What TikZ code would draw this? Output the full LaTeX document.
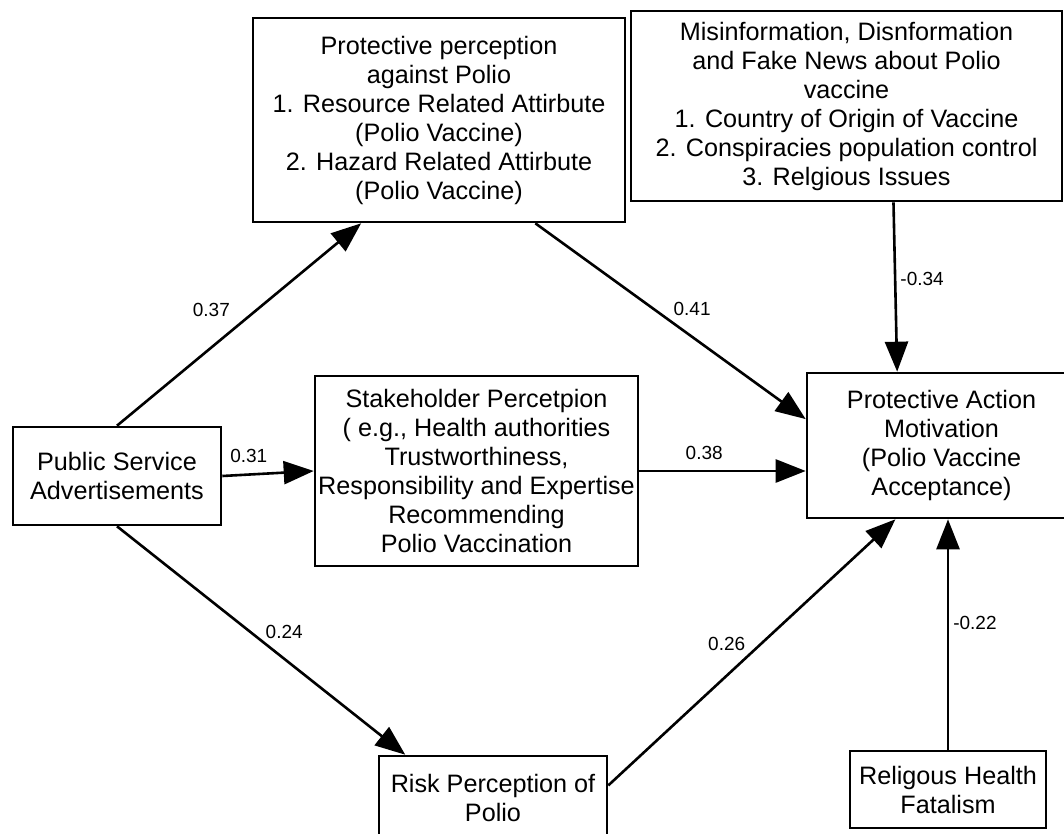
\documentclass[tikz,border=0pt]{standalone}
\usepackage{fontspec}
\setmainfont{Liberation Sans}
\usetikzlibrary{arrows.meta}

\begin{document}
\begin{tikzpicture}[x=.5pt,y=-.5pt,
	box/.style={draw,line width=1.3pt,inner sep=0pt,align=center,font=\fontsize{12.6}{14.5}\selectfont},
	effect/.style={line width=1.3pt,-{Triangle[length=15pt,width=11.5pt]}},
	coef/.style={inner sep=0pt,font=\fontsize{9.5}{11}\selectfont}]
			\useasboundingbox (0,0) rectangle (1064,834);
			\clip (0,0) rectangle (1064,834);
			
			\node[box,minimum width=186pt,minimum height=102pt] (prot) at (439,120) {Protective perception\\against Polio\\1. Resource Related Attirbute\\(Polio Vaccine)\\2. Hazard Related Attirbute\\(Polio Vaccine)};
			\node[box,minimum width=215.5pt,minimum height=95pt] (misinfo) at (846.5,106) {Misinformation, Disnformation\\and Fake News about Polio\\vaccine\\1. Country of Origin of Vaccine\\2. Conspiracies population control\\3. Relgious Issues};
			\node[box,minimum width=104pt,minimum height=49pt] (psa) at (117,476) {Public Service\\Advertisements};
			\node[box,minimum width=161.5pt,minimum height=95pt] (stake) at (476.5,471) {Stakeholder Percetpion\\( e.g., Health authorities\\Trustworthiness,\\Responsibility and Expertise\\Recommending\\Polio Vaccination};
			\node[box,minimum width=134.5pt,minimum height=72.5pt] (pam) at (941.5,445.5) {Protective Action\\Motivation\\(Polio Vaccine\\Acceptance)};
			\node[box,minimum width=114pt,minimum height=41.5pt] (risk) at (493,797.5) {Risk Perception of\\Polio};
			\node[box,minimum width=98pt,minimum height=38.5pt] (relig) at (948,789.5) {Religous Health\\Fatalism};
			
			\draw[effect] (psa.north) -- node[coef,pos=.57,left=12.5pt] {0.37} (prot.233);
			\draw[effect] (psa.east) -- node[coef,pos=.29,above=5.5pt] {0.31} (stake.west);
			\draw[effect] (psa.south) -- node[coef,pos=.58,above=9.5pt] {0.24} (risk.154);
			\draw[effect] (prot.313) -- node[coef,pos=.44,right=9pt] {0.41} (pam.169);
			\draw[effect] (stake.east) -- node[coef,pos=.39,above=5pt] {0.38} (stake.east -| pam.west);
			\draw[effect] (risk.6) -- node[coef,pos=.53,left=7pt] {0.26} (pam.238);
			\draw[effect] (misinfo.296) -- node[coef,pos=.45,right=2pt] {-0.34} (pam.121.5);
			\draw[effect] (relig.north) -- node[coef,pos=.55,right=2pt] {-0.22} (relig.north |- pam.south);
\end{tikzpicture}
\end{document}
